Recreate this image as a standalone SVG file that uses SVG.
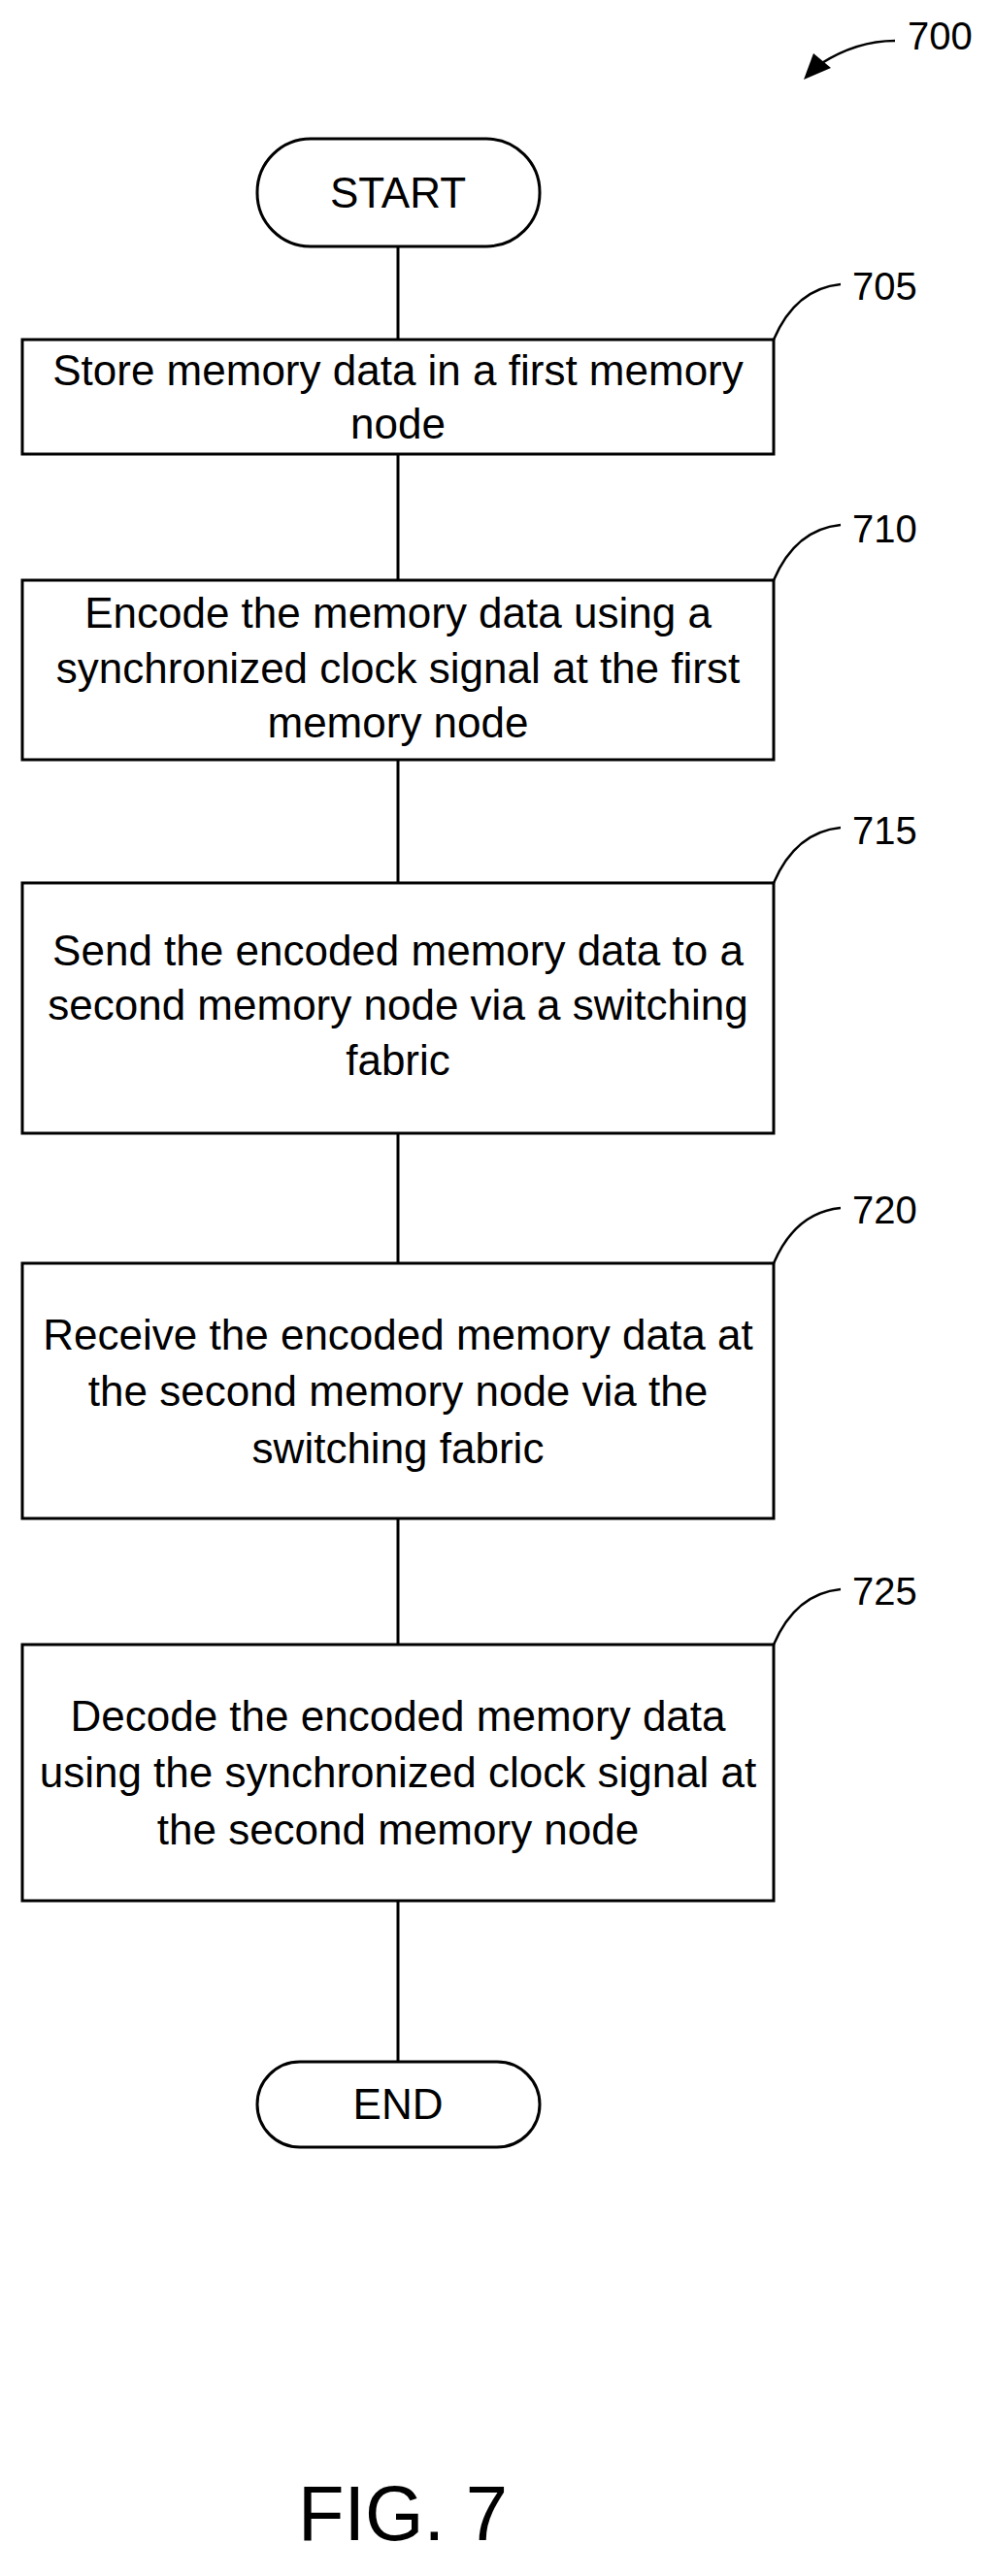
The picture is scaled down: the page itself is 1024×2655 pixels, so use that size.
<svg xmlns="http://www.w3.org/2000/svg" width="1024" height="2655" viewBox="0 0 1024 2655">
<style>
.b{fill:#fff;stroke:#000;stroke-width:3}
.t{font-family:"Liberation Sans",Arial,sans-serif;font-size:44px;text-anchor:middle;fill:#000}
.r{font-family:"Liberation Sans",Arial,sans-serif;font-size:40px;fill:#000}
.c{stroke:#000;stroke-width:3;fill:none}
.l{stroke:#000;stroke-width:2.5;fill:none}
</style>
<g id="connectors">
<line class="c" x1="410" y1="254" x2="410" y2="350"/>
<line class="c" x1="410" y1="468" x2="410" y2="598"/>
<line class="c" x1="410" y1="783" x2="410" y2="910"/>
<line class="c" x1="410" y1="1168" x2="410" y2="1302"/>
<line class="c" x1="410" y1="1565" x2="410" y2="1695"/>
<line class="c" x1="410" y1="1959" x2="410" y2="2125"/>
</g>
<g id="ref700"><path class="l" d="M922,42 C895,42 870,50 845,66"/><path d="M828,82 L838,55 L856,70 Z" fill="#000"/><text class="r" x="935" y="51">700</text></g>
<g id="start"><rect class="b" x="265" y="143" width="291" height="111" rx="55"/><text class="t" x="410" y="214">START</text></g>
<g id="n705"><rect class="b" x="23" y="350" width="774" height="118"/><text class="t" x="410" y="397">Store memory data in a first memory</text><text class="t" x="410" y="452">node</text><path class="l" d="M797,350 C812,315 835,296 866,293"/><text class="r" x="878" y="309">705</text></g>
<g id="n710"><rect class="b" x="23" y="598" width="774" height="185"/><text class="t" x="410" y="647">Encode the memory data using a</text><text class="t" x="410" y="704">synchronized clock signal at the first</text><text class="t" x="410" y="760">memory node</text><path class="l" d="M797,598 C812,563 835,544 866,541"/><text class="r" x="878" y="559">710</text></g>
<g id="n715"><rect class="b" x="23" y="910" width="774" height="258"/><text class="t" x="410" y="995">Send the encoded memory data to a</text><text class="t" x="410" y="1051">second memory node via a switching</text><text class="t" x="410" y="1108">fabric</text><path class="l" d="M797,910 C812,875 835,856 866,853"/><text class="r" x="878" y="870">715</text></g>
<g id="n720"><rect class="b" x="23" y="1302" width="774" height="263"/><text class="t" x="410" y="1391">Receive the encoded memory data at</text><text class="t" x="410" y="1449">the second memory node via the</text><text class="t" x="410" y="1508">switching fabric</text><path class="l" d="M797,1302 C812,1267 835,1248 866,1245"/><text class="r" x="878" y="1261">720</text></g>
<g id="n725"><rect class="b" x="23" y="1695" width="774" height="264"/><text class="t" x="410" y="1784">Decode the encoded memory data</text><text class="t" x="410" y="1842">using the synchronized clock signal at</text><text class="t" x="410" y="1901">the second memory node</text><path class="l" d="M797,1695 C812,1660 835,1641 866,1638"/><text class="r" x="878" y="1654">725</text></g>
<g id="end"><rect class="b" x="265" y="2125" width="291" height="88" rx="44"/><text class="t" x="410" y="2184">END</text></g>
<text x="307" y="2618" font-family="Liberation Sans,Arial,sans-serif" font-size="80" textLength="216" lengthAdjust="spacingAndGlyphs">FIG. 7</text>
</svg>
